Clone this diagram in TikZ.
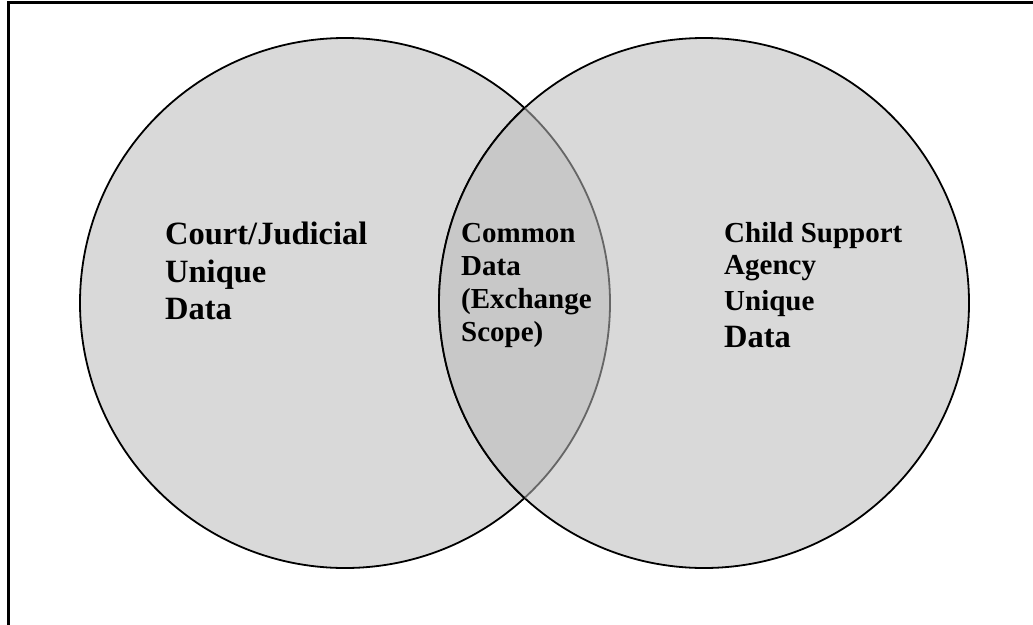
\documentclass[tikz,border=0pt]{standalone}
\usepackage{fontspec}
\setmainfont{Liberation Serif}
\begin{document}
\begin{tikzpicture}[x=1pt,y=-1pt,
  setfill/.style={fill=setgray, draw=black, line width=1.8pt},
  big/.style={font=\bfseries\fontsize{32.5}{37}\selectfont, anchor=base west, inner sep=0pt},
  mid/.style={font=\bfseries\fontsize{29}{33}\selectfont, anchor=base west, inner sep=0pt}]
\definecolor{setgray}{HTML}{D9D9D9}
\definecolor{lensgray}{HTML}{C8C8C8}
\definecolor{lineunder}{HTML}{666666}
\useasboundingbox (0,0) rectangle (1033,624);
\clip (0,0) rectangle (1033,624);
% frame (only top and left edges fall inside the picture)
\draw[line width=2.2pt] (8.5,2.5) rectangle (1060,650);
% circles
\coordinate (lc) at (345,303);
\coordinate (rc) at (704,303);
\draw[setfill] (lc) circle[radius=265];
\draw[setfill] (rc) circle[radius=265];
\begin{scope}
  \clip (rc) circle[radius=265];
  \fill[lensgray] (lc) circle[radius=265];
  \draw[lineunder, line width=1.8pt] (lc) circle[radius=265];
\end{scope}
\begin{scope}
  \clip (lc) circle[radius=265];
  \draw[black, line width=1.8pt] (rc) circle[radius=265];
\end{scope}
% left text
\node[big] (l1) at (165,244) {Court/Judicial};
\node[big] (l2) at (165,282) {Unique};
\node[big] (l3) at (165,319) {Data};
% center text
\node[mid] (c1) at (461,242) {Common};
\node[mid] (c2) at (461,275) {Data};
\node[mid] (c3) at (461,308) {(Exchange};
\node[mid] (c4) at (461,341) {Scope)};
% right text
\node[mid] (r1) at (724,242) {Child Support};
\node[mid] (r2) at (724,274) {Agency};
\node[mid] (r3) at (724,310) {Unique};
\node[big] (r4) at (724,347) {Data};
\end{tikzpicture}
\end{document}
